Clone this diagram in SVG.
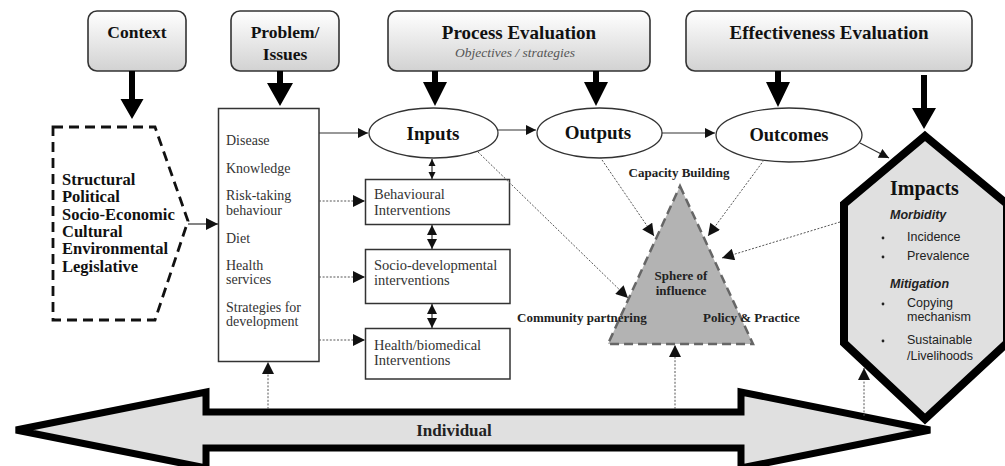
<svg xmlns="http://www.w3.org/2000/svg" width="1005" height="466" viewBox="0 0 1005 466">
  <style>
    .hdr { fill: url(#hdrFill); stroke: #333; stroke-width: 1.6; }
    .htxt { font-family: "Liberation Serif", "Times New Roman", serif; font-weight: bold; fill: #111; text-anchor: middle; }
    .big { font-family: "Liberation Serif", "Times New Roman", serif; font-weight: bold; fill: #111; }
    .item { font-family: "Liberation Serif", "Times New Roman", serif; font-size: 14.5px; fill: #333; }
    .pitem { font-family: "Liberation Serif", "Times New Roman", serif; font-size: 14px; fill: #333; }
    .lbl { font-family: "Liberation Serif", "Times New Roman", serif; font-weight: bold; font-size: 13px; fill: #222; }
    .sans { font-family: "Liberation Sans", Arial, sans-serif; font-size: 12.5px; fill: #222; }
    .sansb { font-family: "Liberation Sans", Arial, sans-serif; font-size: 12.5px; font-weight: bold; font-style: italic; fill: #222; }
    .thick { fill: #000; }
    .thin { fill: none; stroke: #333; stroke-width: 1.2; }
    .dot { fill: none; stroke: #555; stroke-width: 1; stroke-dasharray: 2 1.6; }
    .box { fill: #fff; stroke: #333; stroke-width: 1.5; }
    .ell { fill: #fff; stroke: #333; stroke-width: 1.3; }
  </style>
  <defs>
    <linearGradient id="hdrFill" x1="0" y1="0" x2="0" y2="1">
      <stop offset="0" stop-color="#ffffff"/>
      <stop offset="1" stop-color="#d2d2d2"/>
    </linearGradient>
    <marker id="ah" viewBox="0 0 10 10" refX="10" refY="5" markerWidth="12" markerHeight="10" markerUnits="userSpaceOnUse" orient="auto">
      <path d="M0,0 L10,5 L0,10 Z" fill="#111"/>
    </marker>
    <marker id="ahd" viewBox="0 0 10 10" refX="10" refY="5" markerWidth="13" markerHeight="12" markerUnits="userSpaceOnUse" orient="auto">
      <path d="M0,0 L10,5 L0,10 Z" fill="#111"/>
    </marker>
    <marker id="ahs" viewBox="0 0 10 10" refX="10" refY="5" markerWidth="10" markerHeight="10" markerUnits="userSpaceOnUse" orient="auto-start-reverse">
      <path d="M0,0 L10,5 L0,10 Z" fill="#111"/>
    </marker>
    <marker id="ahxs" viewBox="0 0 10 10" refX="10" refY="5" markerWidth="7" markerHeight="8" markerUnits="userSpaceOnUse" orient="auto-start-reverse">
      <path d="M0,0 L10,5 L0,10 Z" fill="#111"/>
    </marker>
  </defs>

  <!-- header boxes -->
  <g id="context">
    <rect class="hdr" x="88" y="11" width="98" height="60" rx="9"/>
    <text class="htxt" x="137" y="38" font-size="17.5">Context</text>
  </g>
  <g id="problem">
    <rect class="hdr" x="231" y="11" width="108" height="60" rx="9"/>
    <text class="htxt" x="285" y="38" font-size="17.5">Problem/</text>
    <text class="htxt" x="285" y="60" font-size="17.5">Issues</text>
  </g>
  <g id="process-evaluation">
    <rect class="hdr" x="388" y="11" width="262" height="60" rx="9"/>
    <text class="htxt" x="519" y="39" font-size="19">Process Evaluation</text>
    <text x="515" y="57" font-family="Liberation Serif, Times New Roman, serif" font-style="italic" font-size="13.5" fill="#555" text-anchor="middle">Objectives / strategies</text>
  </g>
  <g id="effectiveness-evaluation">
    <rect class="hdr" x="686" y="11" width="286" height="60" rx="9"/>
    <text class="htxt" x="829" y="39" font-size="19">Effectiveness Evaluation</text>
  </g>

  <!-- context factors -->
  <g id="factors">
    <path d="M53,127 L155,127 L188,221 L155,320 L53,320 Z" fill="#fff" stroke="#111" stroke-width="2.8" stroke-dasharray="10 6"/>
    <text class="big" font-size="16.5" x="62">
      <tspan x="62" y="185">Structural</tspan>
      <tspan x="62" y="202">Political</tspan>
      <tspan x="62" y="220">Socio-Economic</tspan>
      <tspan x="62" y="237">Cultural</tspan>
      <tspan x="62" y="254">Environmental</tspan>
      <tspan x="62" y="272">Legislative</tspan>
    </text>
  </g>

  <!-- problem list -->
  <g id="problem-list">
    <rect class="box" x="218.5" y="108.5" width="100.5" height="253"/>
    <text class="pitem" x="226" y="145">Disease</text>
    <text class="pitem" x="226" y="173">Knowledge</text>
    <text class="pitem"><tspan x="226" y="200">Risk-taking</tspan><tspan x="226" y="214.5">behaviour</tspan></text>
    <text class="pitem" x="226" y="243">Diet</text>
    <text class="pitem"><tspan x="226" y="269.5">Health</tspan><tspan x="226" y="284">services</tspan></text>
    <text class="pitem"><tspan x="226" y="311.5">Strategies for</tspan><tspan x="226" y="326">development</tspan></text>
  </g>

  <!-- process chain -->
  <g id="inputs">
    <ellipse class="ell" cx="433.5" cy="133" rx="64.5" ry="25"/>
    <text class="htxt" x="433" y="140" font-size="19">Inputs</text>
  </g>
  <g id="outputs">
    <ellipse class="ell" cx="599.5" cy="133" rx="62.5" ry="25"/>
    <text class="htxt" x="598" y="139" font-size="19">Outputs</text>
  </g>
  <g id="outcomes">
    <ellipse class="ell" cx="789" cy="135" rx="73" ry="27"/>
    <text class="htxt" x="789" y="141" font-size="18.5">Outcomes</text>
  </g>

  <!-- interventions -->
  <g id="behavioural">
    <rect class="box" x="365.5" y="179.5" width="144" height="45"/>
    <text class="item"><tspan x="374" y="199">Behavioural</tspan><tspan x="374" y="215">Interventions</tspan></text>
  </g>
  <g id="socio-developmental">
    <rect class="box" x="365.5" y="249.5" width="144.5" height="54"/>
    <text class="item"><tspan x="374" y="270">Socio-developmental</tspan><tspan x="374" y="285">interventions</tspan></text>
  </g>
  <g id="health-biomedical">
    <rect class="box" x="365.5" y="328.5" width="144.5" height="50.5"/>
    <text class="item"><tspan x="374" y="350">Health/biomedical</tspan><tspan x="374" y="365">Interventions</tspan></text>
  </g>

  <!-- sphere of influence -->
  <g id="sphere">
    <path d="M680,186 L753,344 L608,344 Z" fill="#b3b3b3" stroke="#666" stroke-width="2.5" stroke-dasharray="9 5"/>
    <text class="lbl" x="681" y="280" text-anchor="middle">Sphere of</text>
    <text class="lbl" x="681" y="295" text-anchor="middle">influence</text>
    <text class="lbl" x="679" y="177" text-anchor="middle">Capacity Building</text>
    <text class="lbl" x="517" y="322">Community partnering</text>
    <text class="lbl" x="703" y="322">Policy &amp; Practice</text>
  </g>

  <!-- individual level -->
  <g id="individual">
    <path d="M16,430 L206,392 L206,412 L741,412 L741,392 L930,430 L741,468 L741,448 L206,448 L206,468 Z" fill="#e0e0e0" stroke="#000" stroke-width="7" stroke-linejoin="miter"/>
    <text x="454" y="436" font-family="Liberation Serif, Times New Roman, serif" font-size="17" font-weight="bold" fill="#222" text-anchor="middle">Individual</text>
  </g>

  <!-- impacts -->
  <g id="impacts">
    <path d="M925,136 L1007,204 L1007,343 L925,419 L844,343 L844,204 Z" fill="#e0e0e0" stroke="#000" stroke-width="8"/>
    <text class="big" x="890" y="195" font-size="20">Impacts</text>
    <text class="sansb" x="890" y="219">Morbidity</text>
    <text class="sans" x="907" y="241">Incidence</text>
    <text class="sans" x="907" y="260">Prevalence</text>
    <text class="sansb" x="890" y="288">Mitigation</text>
    <text class="sans"><tspan x="907" y="307">Copying</tspan><tspan x="907" y="321">mechanism</tspan></text>
    <text class="sans"><tspan x="907" y="344">Sustainable</tspan><tspan x="907" y="360">/Livelihoods</tspan></text>
    <g fill="#222">
      <circle cx="883" cy="238" r="1.4"/>
      <circle cx="883" cy="257" r="1.4"/>
      <circle cx="883" cy="304" r="1.4"/>
      <circle cx="883" cy="341" r="1.4"/>
    </g>
  </g>

  <!-- connectors -->
  <g id="connectors">
    <!-- heavy arrows from the headers -->
    <path class="thick" d="M129,71 h6 v28 h8.5 l-11.5,20 l-11.5,-20 h8.5 z"/>
    <path class="thick" d="M277,71 h6 v12 h10 l-13,23 l-13,-23 h10 z"/>
    <path class="thick" d="M432,71 h6 v11 h9 l-12,24 l-12,-24 h9 z"/>
    <path class="thick" d="M593,71 h6 v11 h9 l-12,24 l-12,-24 h9 z"/>
    <path class="thick" d="M775,71 h6 v11 h9 l-12,25 l-12,-25 h9 z"/>
    <path class="thick" d="M921,75 h6 v33 h9 l-12,21 l-12,-21 h9 z"/>

    <!-- solid flow arrows -->
    <line class="thin" x1="188" y1="224" x2="218" y2="224" marker-end="url(#ahd)"/>
    <line class="thin" x1="319" y1="133" x2="368" y2="133" marker-end="url(#ah)"/>
    <line class="thin" x1="498" y1="130" x2="536" y2="130" marker-end="url(#ah)"/>
    <line class="thin" x1="662" y1="133" x2="715" y2="133" marker-end="url(#ah)"/>
    <line class="thin" x1="860" y1="143" x2="889" y2="158" marker-end="url(#ah)"/>

    <!-- two-way links between inputs and interventions -->
    <line class="thin" x1="432" y1="159" x2="432" y2="179" marker-start="url(#ahxs)" marker-end="url(#ahxs)"/>
    <line class="thin" x1="432" y1="225" x2="432" y2="249" marker-start="url(#ahs)" marker-end="url(#ahs)"/>
    <line class="thin" x1="432" y1="304" x2="432" y2="328" marker-start="url(#ahs)" marker-end="url(#ahs)"/>

    <!-- dotted links -->
    <line class="dot" x1="319" y1="201" x2="365" y2="201" marker-end="url(#ahd)"/>
    <line class="dot" x1="319" y1="277" x2="365" y2="277" marker-end="url(#ahd)"/>
    <line class="dot" x1="319" y1="340" x2="365" y2="340" marker-end="url(#ahd)"/>
    <line class="dot" x1="478" y1="152" x2="628" y2="298" marker-end="url(#ahd)"/>
    <line class="dot" x1="600" y1="157" x2="654" y2="236" marker-end="url(#ahd)"/>
    <line class="dot" x1="764" y1="160" x2="708" y2="236" marker-end="url(#ahd)"/>
    <line class="dot" x1="840" y1="222" x2="722" y2="258" marker-end="url(#ahd)"/>
    <line class="dot" x1="268" y1="409" x2="268" y2="362" marker-end="url(#ahd)"/>
    <line class="dot" x1="675" y1="409" x2="675" y2="345" marker-end="url(#ahd)"/>
    <line class="dot" x1="864" y1="416" x2="864" y2="368" marker-end="url(#ahd)"/>
  </g>
</svg>
